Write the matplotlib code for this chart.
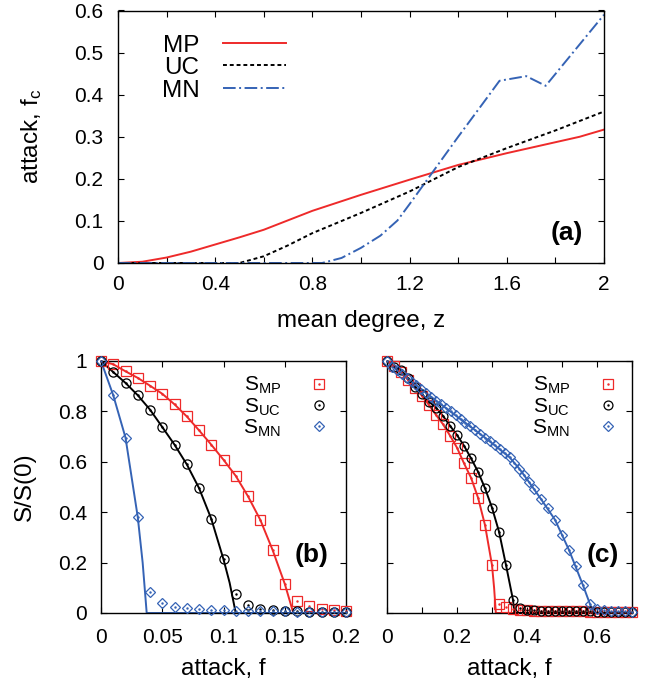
import numpy as np
import matplotlib
matplotlib.use("Agg")
import matplotlib.pyplot as plt
from matplotlib.ticker import MultipleLocator, FuncFormatter

plt.rcParams['font.family'] = ['Liberation Sans', 'DejaVu Sans']
plt.rcParams['mathtext.fontset'] = 'custom'
plt.rcParams['mathtext.rm'] = 'Liberation Sans'
plt.rcParams['mathtext.it'] = 'Liberation Sans'

RED = '#ee2a2a'
BLUE = '#3563b5'
BLACK = '#000000'

# ---------------- panel (a) data ----------------
z_mp = [0, 0.1, 0.2, 0.3, 0.4, 0.5, 0.6, 0.8, 1.0, 1.2, 1.4, 1.6, 1.8, 1.9, 2.0]
fc_mp = [0, 0.003, 0.013, 0.027, 0.044, 0.061, 0.079, 0.124, 0.162, 0.198, 0.233, 0.261, 0.287, 0.300, 0.317]
z_uc = [0, 0.5, 0.6, 0.7, 0.8, 1.0, 1.2, 1.4, 1.6, 1.8, 2.0]
fc_uc = [0, 0, 0.016, 0.042, 0.071, 0.119, 0.170, 0.228, 0.273, 0.315, 0.360]
z_mn = [0, 0.84, 0.92, 1.0, 1.08, 1.15, 1.2, 1.3, 1.4, 1.5, 1.57, 1.68, 1.76, 2.0]
fc_mn = [0, 0, 0.012, 0.036, 0.065, 0.101, 0.140, 0.220, 0.300, 0.378, 0.433, 0.444, 0.421, 0.590]

# ---------------- panel (b) data ----------------
f_b = [0, 0.01, 0.02, 0.03, 0.04, 0.05, 0.06, 0.07, 0.08, 0.09, 0.10,
       0.11, 0.12, 0.13, 0.14, 0.15, 0.16, 0.17, 0.18, 0.19, 0.20]
smp_b = [1.0, 0.987, 0.959, 0.933, 0.902, 0.870, 0.828, 0.780, 0.725, 0.668, 0.608,
         0.544, 0.463, 0.370, 0.251, 0.116, 0.048, 0.026, 0.016, 0.011, 0.008]
suc_b = [1.0, 0.956, 0.913, 0.864, 0.807, 0.738, 0.668, 0.590, 0.496, 0.374, 0.213,
         0.074, 0.030, 0.017, 0.013, 0.008, 0.006, 0.005, 0.005, 0.004, 0.004]
smn_b = [1.0, 0.864, 0.696, 0.381, 0.083, 0.040, 0.024, 0.021, 0.017, 0.012, 0.010,
         0.009, 0.008, 0.007, 0.006, 0.006, 0.005, 0.005, 0.005, 0.004, 0.004]
# theory lines (b)
fl_mp_b = [0, 0.01, 0.02, 0.03, 0.04, 0.05, 0.06, 0.07, 0.08, 0.09, 0.10, 0.11, 0.12, 0.13, 0.14, 0.15, 0.157, 0.2]
sl_mp_b = [1.0, 0.987, 0.959, 0.933, 0.902, 0.870, 0.828, 0.780, 0.725, 0.668, 0.608, 0.544, 0.463, 0.370, 0.251, 0.116, 0.0, 0.0]
fl_uc_b = [0, 0.01, 0.02, 0.03, 0.04, 0.05, 0.06, 0.07, 0.08, 0.09, 0.10, 0.105, 0.110, 0.2]
sl_uc_b = [1.0, 0.956, 0.913, 0.864, 0.807, 0.738, 0.668, 0.590, 0.496, 0.374, 0.213, 0.120, 0.0, 0.0]
fl_mn_b = [0, 0.01, 0.02, 0.03, 0.034, 0.0373, 0.2]
sl_mn_b = [1.0, 0.864, 0.696, 0.381, 0.200, 0.0, 0.0]

# ---------------- panel (c) data ----------------
f_c = [0, 0.02, 0.04, 0.06, 0.08, 0.10, 0.12, 0.14, 0.16, 0.18, 0.20, 0.22, 0.24, 0.26,
       0.28, 0.30, 0.32, 0.34, 0.36, 0.38, 0.40, 0.42, 0.44, 0.46, 0.48, 0.50, 0.52,
       0.54, 0.56, 0.58, 0.60, 0.62, 0.64, 0.66, 0.68, 0.70]
smp_c = [1.0, 0.980, 0.955, 0.925, 0.894, 0.862, 0.825, 0.786, 0.749, 0.704, 0.656, 0.594,
         0.537, 0.458, 0.349, 0.190, 0.034, 0.025, 0.015, 0.012, 0.010, 0.009, 0.008,
         0.008, 0.007, 0.007, 0.006, 0.006, 0.006, 0.005, 0.005, 0.005, 0.005, 0.005, 0.005, 0.005]
suc_c = [1.0, 0.978, 0.964, 0.931, 0.898, 0.868, 0.839, 0.815, 0.782, 0.743, 0.706, 0.664,
         0.614, 0.561, 0.495, 0.418, 0.323, 0.190, 0.052, 0.020, 0.012, 0.010, 0.009,
         0.008, 0.008, 0.007, 0.007, 0.006, 0.006, 0.006, 0.005, 0.005, 0.005, 0.005, 0.005, 0.005]
f_mn_c = [0, 0.014, 0.028, 0.042, 0.056, 0.070, 0.084, 0.098, 0.112, 0.126, 0.140, 0.154,
          0.168, 0.182, 0.196, 0.210, 0.224, 0.238, 0.252, 0.266, 0.280, 0.294, 0.308,
          0.322, 0.336, 0.350, 0.364, 0.378, 0.392, 0.406, 0.420, 0.44, 0.46, 0.48, 0.50,
          0.52, 0.54, 0.56, 0.58, 0.60, 0.62, 0.64, 0.66, 0.68, 0.70]
smn_c = [1.0, 0.978, 0.963, 0.949, 0.933, 0.918, 0.903, 0.887, 0.873, 0.858, 0.843, 0.829,
         0.815, 0.800, 0.784, 0.769, 0.755, 0.741, 0.726, 0.711, 0.696, 0.682, 0.667,
         0.651, 0.636, 0.618, 0.597, 0.573, 0.546, 0.519, 0.492, 0.452, 0.415, 0.370, 0.310,
         0.250, 0.187, 0.110, 0.035, 0.015, 0.010, 0.008, 0.007, 0.006, 0.005]
# theory lines (c)
fl_mp_c = [0, 0.02, 0.04, 0.06, 0.08, 0.10, 0.12, 0.14, 0.16, 0.18, 0.20, 0.22, 0.24, 0.26, 0.28, 0.30, 0.306, 0.311, 0.70]
sl_mp_c = [1.0, 0.980, 0.955, 0.925, 0.894, 0.862, 0.825, 0.786, 0.749, 0.704, 0.656, 0.594, 0.537, 0.458, 0.349, 0.190, 0.100, 0.0, 0.0]
fl_uc_c = [0, 0.02, 0.04, 0.06, 0.08, 0.10, 0.12, 0.14, 0.16, 0.18, 0.20, 0.22, 0.24, 0.26, 0.28, 0.30, 0.32, 0.34, 0.36, 0.364, 0.70]
sl_uc_c = [1.0, 0.978, 0.964, 0.931, 0.898, 0.868, 0.839, 0.815, 0.782, 0.743, 0.706, 0.664, 0.614, 0.561, 0.495, 0.418, 0.323, 0.190, 0.052, 0.0, 0.0]
fl_mn_c = [0, 0.07, 0.14, 0.21, 0.28, 0.35, 0.378, 0.406, 0.44, 0.48, 0.52, 0.56, 0.58, 0.59, 0.70]
sl_mn_c = [1.0, 0.918, 0.843, 0.769, 0.696, 0.618, 0.573, 0.519, 0.452, 0.370, 0.250, 0.110, 0.035, 0.0, 0.0]

TICK_FS = 15
LAB_FS = 17.5
PANEL_FS = 19

fig = plt.figure(figsize=(6.49, 6.83), dpi=100)
ax_a = fig.add_axes([118/649, 1-263/683, 486/649, 252.5/683])
ax_b = fig.add_axes([101/649, 1-613/683, 245/649, 252/683])
ax_c = fig.add_axes([387/649, 1-613/683, 245/649, 252/683])

def gfmt(v, pos):
    s = ('%.2f' % v).rstrip('0').rstrip('.')
    return '0' if s in ('-0', '') else s

for ax in (ax_a, ax_b, ax_c):
    ax.tick_params(which='both', direction='in', top=True, right=True,
                   length=4.5, width=0.8, labelsize=TICK_FS)
    for sp in ax.spines.values():
        sp.set_linewidth(1.0)
    ax.xaxis.set_major_formatter(FuncFormatter(gfmt))
    ax.yaxis.set_major_formatter(FuncFormatter(gfmt))

# ---- (a)
ax_a.plot(z_mp, fc_mp, color=RED, lw=1.4, label='MP')
ax_a.plot(z_uc, fc_uc, color=BLACK, lw=1.4, dashes=(2.0, 1.5), label='UC')
ax_a.plot(z_mn, fc_mn, color=BLUE, lw=1.4, dashes=(6.5, 1.8, 1.0, 1.8), label='MN')
ax_a.set_xlim(0, 2)
ax_a.set_ylim(0, 0.6)
ax_a.xaxis.set_major_locator(MultipleLocator(0.4))
ax_a.xaxis.set_minor_locator(MultipleLocator(0.2))
ax_a.yaxis.set_major_locator(MultipleLocator(0.1))
ax_a.tick_params(axis='x', pad=8.5)
ax_a.tick_params(axis='y', pad=10.5)
ax_a.set_xlabel('mean degree, z', fontsize=LAB_FS, labelpad=12)
ax_a.set_ylabel(r'attack, f$_{\mathregular{c}}$', fontsize=LAB_FS, labelpad=22)
ax_a.legend(loc='upper left', bbox_to_anchor=(0.09, 0.905), frameon=False,
            markerfirst=False, fontsize=17.5, handlelength=2.6, handletextpad=0.95,
            labelspacing=0.02, borderpad=0.0, borderaxespad=0.0)
ax_a.text(0.924, 0.12, '(a)', transform=ax_a.transAxes, fontsize=PANEL_FS,
          fontweight='bold', ha='center', va='center')

# ---- (b) & (c)
def panel(ax, fx_mp, s_mp, fx_uc, s_uc, fx_mn, s_mn, lines, ms_sq, ms_ci, ms_di, legx):
    (lx1, ly1), (lx2, ly2), (lx3, ly3) = lines
    ax.plot(lx1, ly1, color=RED, lw=1.4, zorder=2)
    ax.plot(lx2, ly2, color=BLACK, lw=1.4, zorder=2)
    ax.plot(lx3, ly3, color=BLUE, lw=1.4, zorder=2)
    h1, = ax.plot(fx_mp, s_mp, ls='none', marker='s', ms=ms_sq, mfc='none', mec=RED,
                  mew=0.9, clip_on=False, zorder=3)
    h2, = ax.plot(fx_uc, s_uc, ls='none', marker='o', ms=ms_ci, mfc='none', mec=BLACK,
                  mew=0.9, clip_on=False, zorder=4)
    h3, = ax.plot(fx_mn, s_mn, ls='none', marker='D', ms=ms_di, mfc='none', mec=BLUE,
                  mew=0.9, clip_on=False, zorder=5)
    d1, = ax.plot(fx_mp, s_mp, ls='none', marker='.', ms=1.5, color=RED, clip_on=False, zorder=3)
    d2, = ax.plot(fx_uc, s_uc, ls='none', marker='.', ms=1.5, color=BLACK, clip_on=False, zorder=4)
    d3, = ax.plot(fx_mn, s_mn, ls='none', marker='.', ms=1.5, color=BLUE, clip_on=False, zorder=5)
    ax.set_ylim(0, 1)
    ax.yaxis.set_major_locator(MultipleLocator(0.2))
    ax.tick_params(axis='x', pad=11)
    ax.tick_params(axis='y', pad=10)
    ax.legend([(h1, d1), (h2, d2), (h3, d3)],
              [r'$\mathregular{S_{MP}}$', r'$\mathregular{S_{UC}}$', r'$\mathregular{S_{MN}}$'],
              loc='upper right', bbox_to_anchor=(legx, 0.944), frameon=False,
              markerfirst=False, fontsize=15, handlelength=1.0, handletextpad=1.33,
              labelspacing=0.0, borderpad=0.0, borderaxespad=0.0)
    ax.set_xlabel('attack, f', fontsize=LAB_FS, labelpad=8)

panel(ax_b, f_b, smp_b, f_b, suc_b, f_b, smn_b,
      [(fl_mp_b, sl_mp_b), (fl_uc_b, sl_uc_b), (fl_mn_b, sl_mn_b)], 7.8, 6.6, 5.6, 0.932)
ax_b.set_xlim(0, 0.2)
ax_b.xaxis.set_major_locator(MultipleLocator(0.05))
ax_b.set_ylabel('S/S(0)', fontsize=LAB_FS, labelpad=16)
ax_b.text(0.861, 0.23, '(b)', transform=ax_b.transAxes, fontsize=PANEL_FS,
          fontweight='bold', ha='center', va='center')

panel(ax_c, f_c, smp_c, f_c, suc_c, f_mn_c, smn_c,
      [(fl_mp_c, sl_mp_c), (fl_uc_c, sl_uc_c), (fl_mn_c, sl_mn_c)], 6.5, 6.4, 5.0, 0.945)
ax_c.set_xlim(0, 0.7)
ax_c.xaxis.set_major_locator(MultipleLocator(0.2))
ax_c.xaxis.set_minor_locator(MultipleLocator(0.1))
ax_c.tick_params(which='both', labelleft=False)
ax_c.text(0.882, 0.23, '(c)', transform=ax_c.transAxes, fontsize=PANEL_FS,
          fontweight='bold', ha='center', va='center')

fig.savefig('out.png', dpi=100)
